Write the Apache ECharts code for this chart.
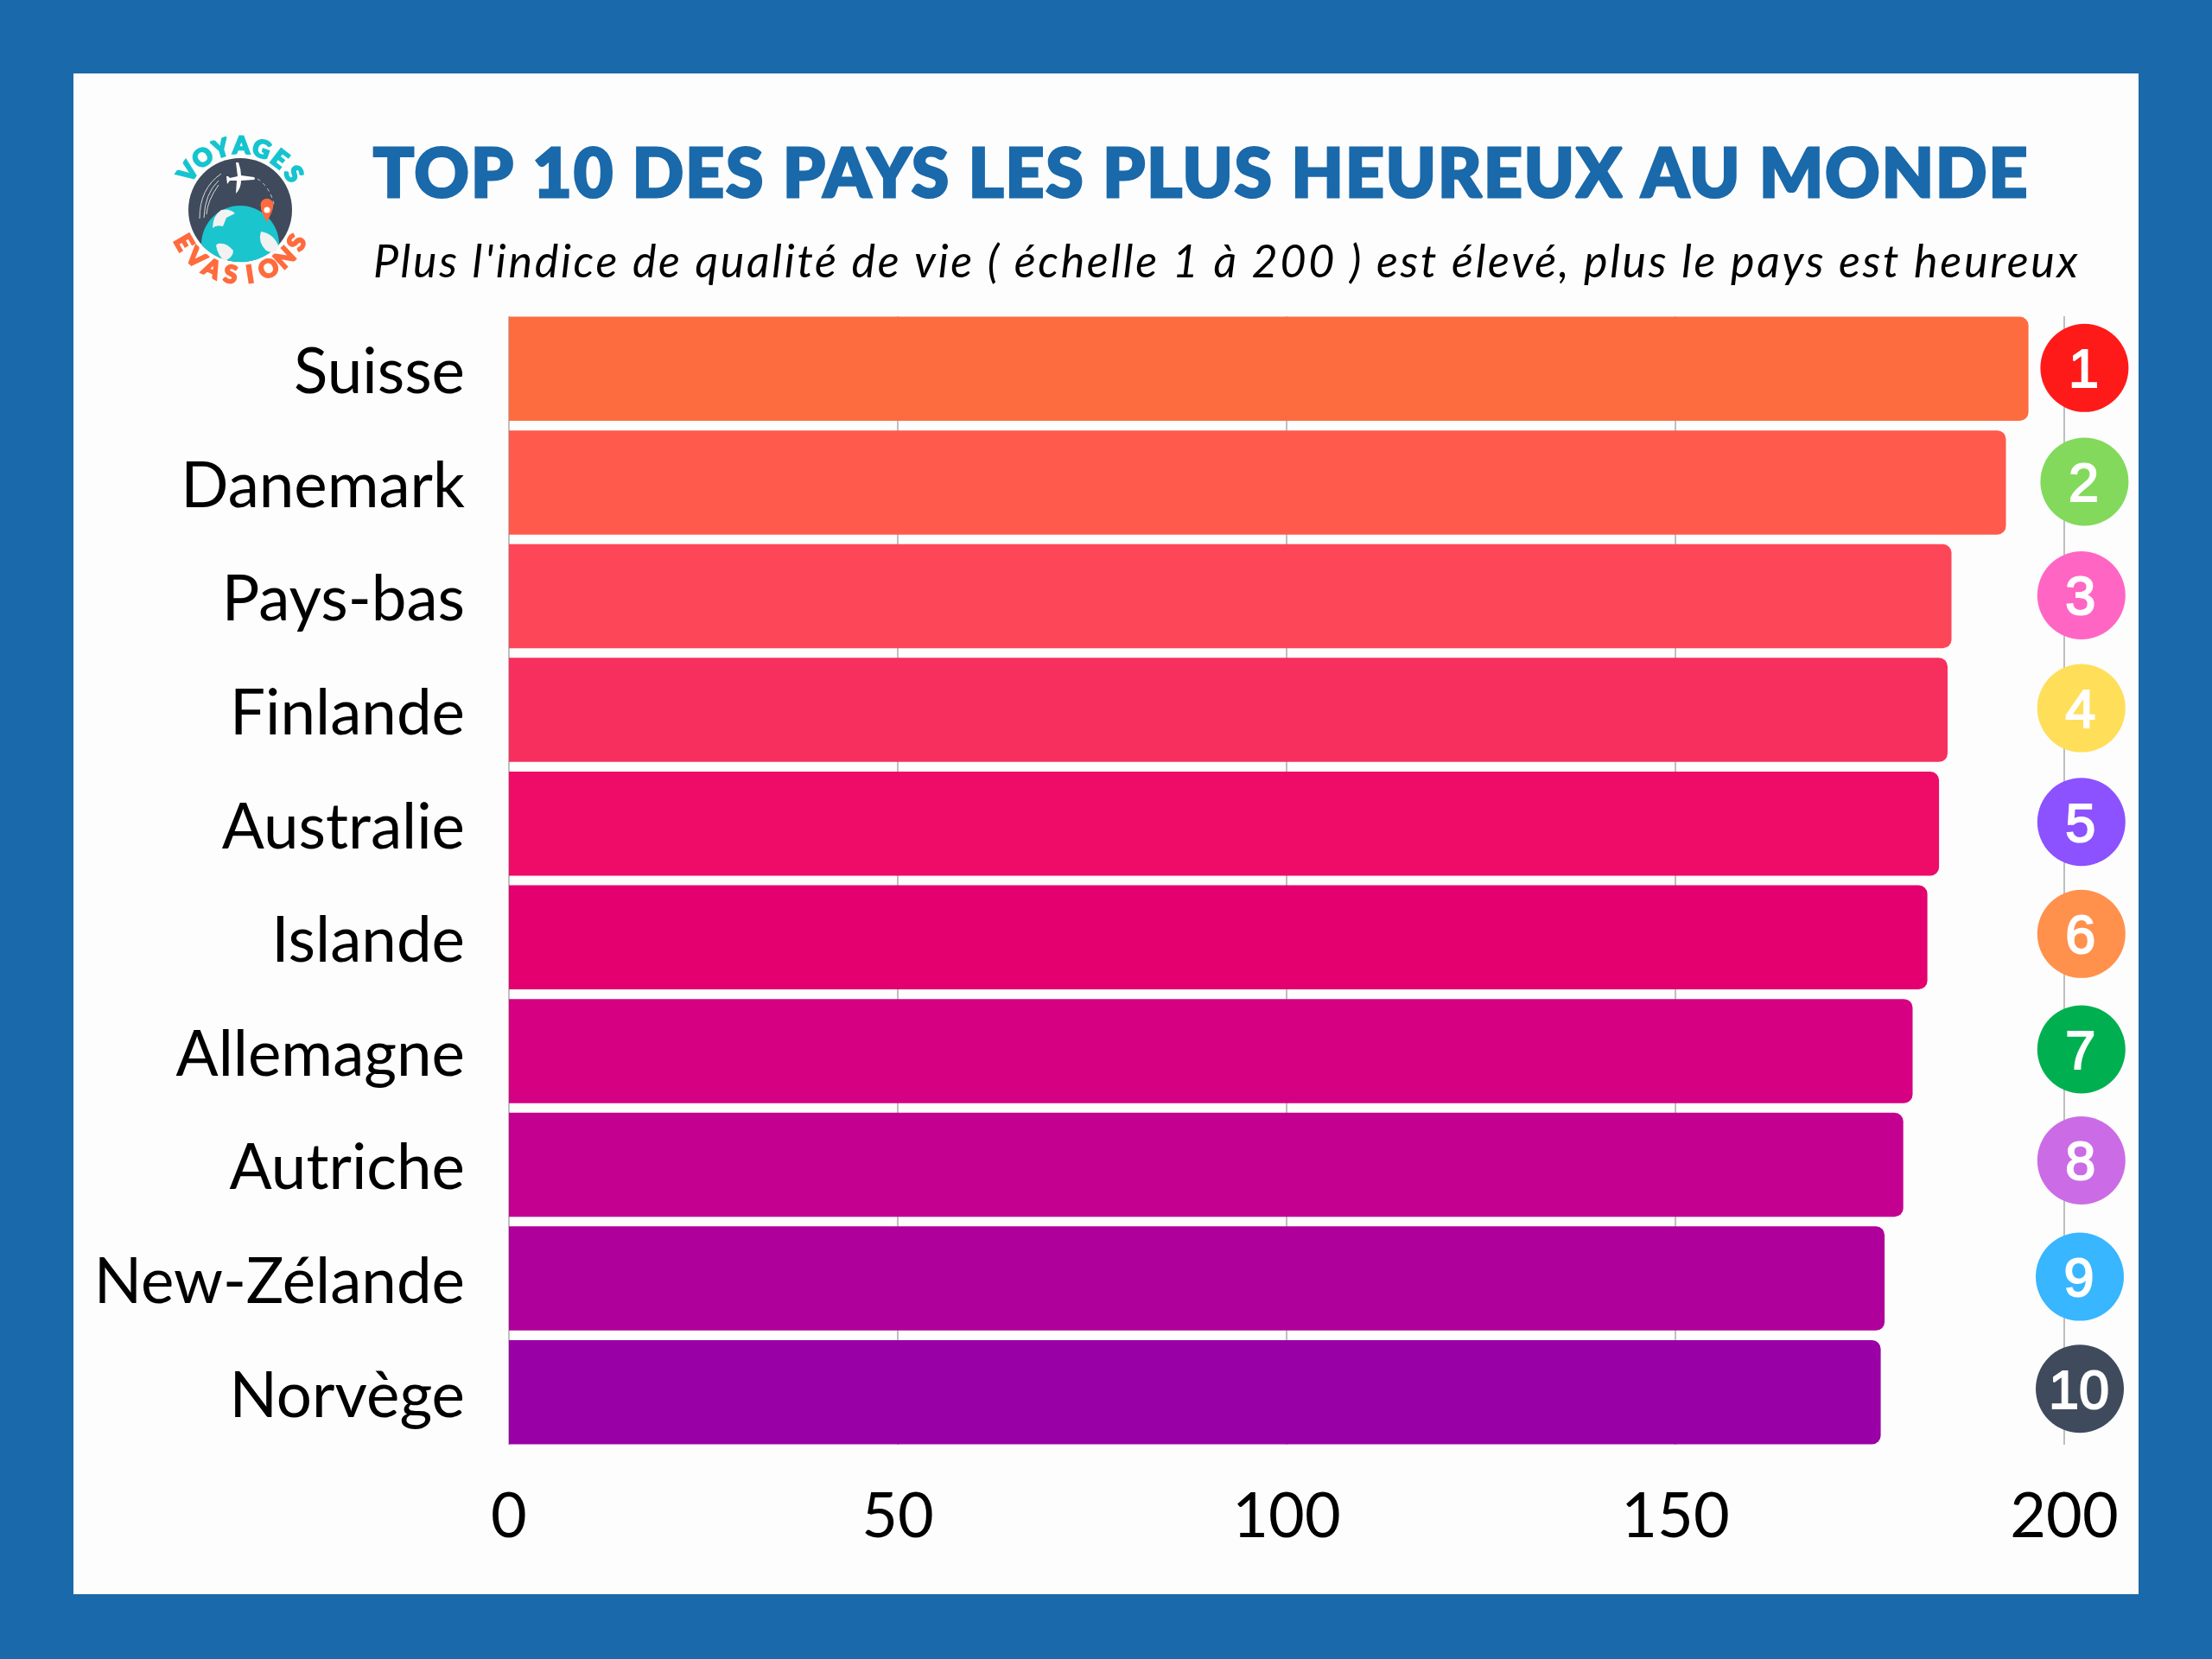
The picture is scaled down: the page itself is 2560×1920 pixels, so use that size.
<!DOCTYPE html>
<html><head><meta charset="utf-8">
<style>html,body{margin:0;padding:0;background:#1A69AA}#c{width:2560px;height:1920px}</style>
<script src="https://cdn.jsdelivr.net/npm/echarts@6/dist/echarts.min.js"></script>
</head><body><div id="c"></div>
<script>
const countries = ['Suisse','Danemark','Pays-bas','Finlande','Australie','Islande','Allemagne','Autriche','New-Zélande','Norvège'];
const indexValues = [195.4,192.5,185.5,185.0,183.9,182.4,180.5,179.3,176.9,176.4];
const barColors = ['#FD6C3E','#FF5A4B','#FE4659','#F72F5F','#EE0C68','#E4006F','#D50082','#C40091','#B0009B','#9900A6'];
const ranks = ['1','2','3','4','5','6','7','8','9','10'];
const rankColors = ['#FF1A1A','#82D95B','#FF66C4','#FFDE59','#8C52FF','#FF914D','#00B050','#CB6CE6','#38B6FF','#3F4B5C'];
const badgeColumn = [202.6,202.6,202.2,202.2,202.2,202.2,202.2,202.2,202.0,202.0];
const badgeNudge = [[0,-1],[0,-1],[0,-1],[0,-2],[0,-2],[0,-4],[0,-2],[0,-5],[0,-2],[0,-4]];
const axisTicks = [0,50,100,150,200];
const titleText = 'TOP 10 DES PAYS LES PLUS HEUREUX AU MONDE';
const subtitleText = "Plus l'indice de qualité de vie ( échelle 1 à 200 ) est élevé, plus le pays est heureux";

// title and subtitle are set with wide tracking in the reference
const tracking = {[titleText]:'2.1px',[subtitleText]:'2.7px'};
for (const fn of ['fillText','strokeText']) {
  const native = CanvasRenderingContext2D.prototype[fn];
  CanvasRenderingContext2D.prototype[fn] = function(t,x,y,m){
    if (tracking[t] && 'letterSpacing' in this) {
      const keep = this.letterSpacing; this.letterSpacing = tracking[t];
      native.call(this,t,x,y); this.letterSpacing = keep; return;
    }
    return m === undefined ? native.call(this,t,x,y) : native.call(this,t,x,y,m);
  };
}

function arcLetters(word, fill, from, to, bottom){
  const cx=278, cy=243, r=bottom?76:74;
  return word.split('').map((ch,i)=>{
    const a=(from+(to-from)*i/(word.length-1))*Math.PI/180;
    return {type:'text',x:cx+r*Math.sin(a),y:bottom?cy+r*Math.cos(a):cy-r*Math.cos(a),rotation:bottom?a:-a,
      style:{text:ch,fill:fill,font:'900 28px Lato',textAlign:'center',textVerticalAlign:'middle',stroke:fill,lineWidth:2}};
  });
}
const logoParts = [
  {type:'circle',shape:{cx:278,cy:243,r:60},style:{fill:'#3F4B5C'}},
  {type:'path',shape:{pathData:'M233 283 A45 45 0 0 1 323 283 A60 60 0 0 1 233 283 Z'},style:{fill:'#1BC5CE'}},
  {type:'path',shape:{pathData:'M256 243 Q266 241 272 247 L262 252 L258 262 Q250 260 246 264 Q246 250 256 243 Z M252 282 Q262 280 270 290 Q270 298 260 302 Q252 296 250 284 Z M302 268 Q316 270 322 284 Q320 296 308 290 Q298 280 302 268 Z'},style:{fill:'#F2F2F2'}},
  {type:'path',shape:{pathData:'M273 188 L276 188 Q279 196 279 203 L294 205 Q296 207 294 208 L279 209 Q279 218 273 224 L274 209 L266 209 L263 213 L262 204 L264 204 L266 206 L275 204 Q274 196 273 188 Z'},style:{fill:'#FFFFFF'}},
  {type:'path',shape:{pathData:'M231 253 Q231 218 256 201 M236 252 Q237 224 253 209 M239 248 Q240 232 253 214'},style:{fill:'none',stroke:'#D9D9D9',lineWidth:1}},
  {type:'path',shape:{pathData:'M298 207 Q312 216 317 236'},style:{fill:'none',stroke:'#C9CDD2',lineWidth:1,lineDash:[4,4]}},
  {type:'path',shape:{pathData:'M309 257 Q301 243 302 240 A7.5 7.5 0 1 1 316 240 Q316 243 309 257 Z'},style:{fill:'#FF6B3D'}},
  {type:'circle',shape:{cx:309,cy:243,r:3.5},style:{fill:'#FFFFFF'}}
].concat(arcLetters('VOYAGES','#16C4CF',-54,56,false), arcLetters('EVASIONS','#FF6B3D',-60,60,true));

const chart = echarts.init(document.getElementById('c'));
chart.setOption({
  animation:false,
  backgroundColor:'#1A69AA',
  title:[
    {text:titleText,left:427,top:159,textStyle:{fontFamily:'Lato',fontWeight:900,fontSize:78,color:'#1A69AA',textBorderColor:'#1A69AA',textBorderWidth:3}},
    {text:subtitleText,left:427,top:273,textStyle:{fontFamily:'Lato',fontStyle:'italic',fontWeight:400,fontSize:52,color:'#000000'}}
  ],
  graphic:{elements:[
    {type:'rect',z:-10,silent:true,shape:{x:85,y:85,width:2390,height:1760},style:{fill:'#FDFDFD'}}
  ]},
  grid:[
    {left:589,right:171,top:361,height:1316},
    {left:589,right:171,top:366,height:1306}
  ],
  xAxis:[
    {gridIndex:0,type:'value',min:0,max:200,interval:50,show:false,splitLine:{show:false}},
    {gridIndex:1,type:'value',min:0,max:200,interval:50,
      axisLine:{show:false},axisTick:{show:false},
      splitLine:{show:true,lineStyle:{color:'#BFBFBF',width:2}},
      axisLabel:{margin:48,fontFamily:'Lato',fontSize:72,color:'#000000',
        formatter:v=>axisTicks.includes(v)?String(v):''}}
  ],
  yAxis:[
    {gridIndex:0,type:'category',inverse:true,data:countries,
      axisLine:{show:false},axisTick:{show:false},splitLine:{show:false},
      axisLabel:{margin:51,align:'right',formatter:'{n|{value}}',
        rich:{n:{padding:[10,0,0,0],fontFamily:'Lato',fontSize:72.7,color:'#000000'}}}},
    {gridIndex:1,type:'value',min:0,max:1,show:false,splitLine:{show:false}}
  ],
  series:[
    {type:'bar',xAxisIndex:0,yAxisIndex:0,barWidth:120.5,
      data:indexValues.map((v,i)=>({value:v,itemStyle:{color:barColors[i],borderRadius:[0,10,10,0]}}))},
    {type:'scatter',xAxisIndex:0,yAxisIndex:0,clip:false,symbol:'circle',symbolSize:102,z:5,
      data:ranks.map((r,i)=>({value:[badgeColumn[i],countries[i]],symbolOffset:badgeNudge[i],
        itemStyle:{color:rankColors[i],opacity:1},
        label:{show:true,position:'inside',offset:[-1,5],formatter:r,fontFamily:'Liberation Sans',fontWeight:'normal',fontSize:63,color:'#FFFFFF',textBorderColor:'#FFFFFF',textBorderWidth:2}}))},
    {type:'custom',coordinateSystem:'none',silent:true,z:6,data:[[0]],
      renderItem:()=>({type:'group',children:logoParts})}
  ]
});
</script></body></html>
